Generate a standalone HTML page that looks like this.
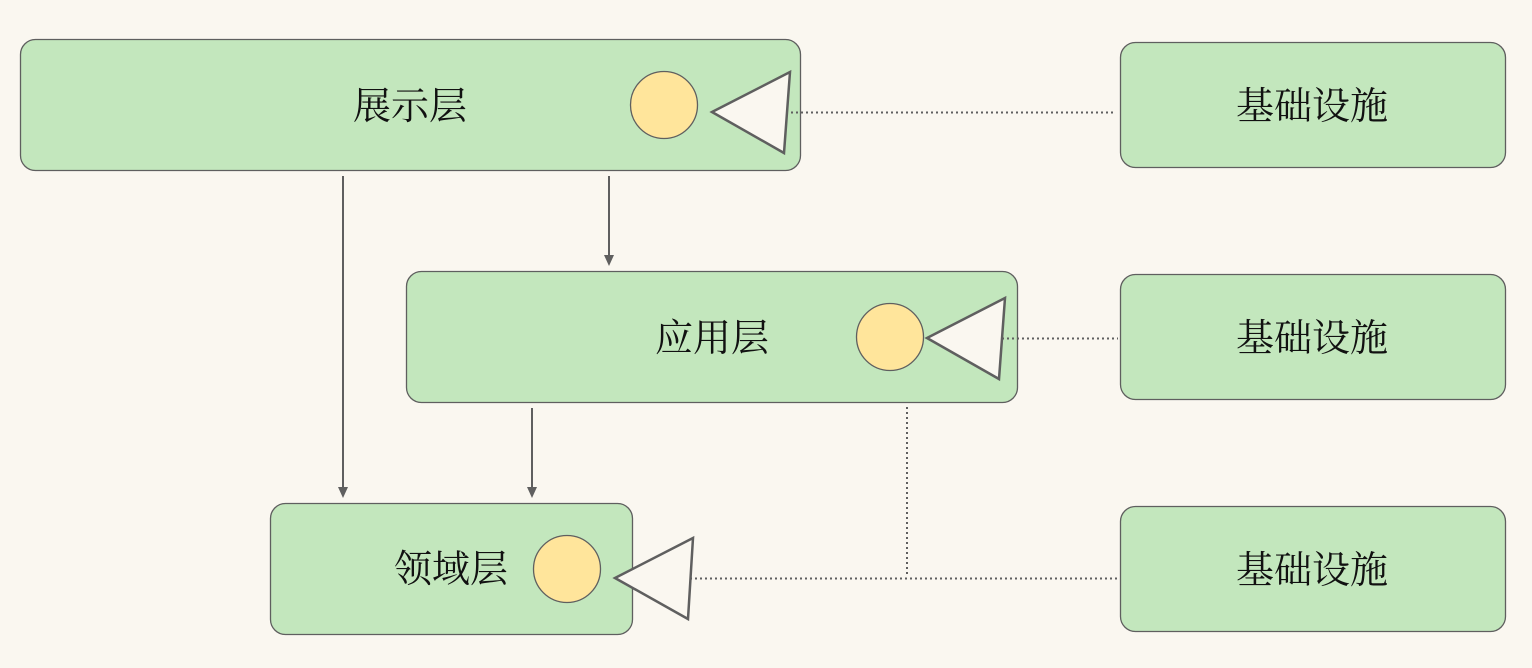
<!DOCTYPE html>
<html><head><meta charset="utf-8"><style>
html,body{margin:0;padding:0;background:#faf7f0;}
svg{display:block}
text{font-family:"Liberation Serif","Noto Serif CJK SC",serif;font-size:38px;fill:#111;text-anchor:middle;dominant-baseline:central}
</style></head><body>
<svg width="1532" height="668" viewBox="0 0 1532 668" xmlns="http://www.w3.org/2000/svg">
<g fill="#c3e7bd" stroke="#5f5f5f" stroke-width="1.3">
<rect x="20.5" y="39.5" width="780" height="131" rx="15"/>
<rect x="406.5" y="271.5" width="611" height="131" rx="15"/>
<rect x="270.5" y="503.5" width="362" height="131" rx="15"/>
<rect x="1120.5" y="42.5" width="385" height="125" rx="15"/>
<rect x="1120.5" y="274.5" width="385" height="125" rx="15"/>
<rect x="1120.5" y="506.5" width="385" height="125" rx="15"/>
</g>
<g stroke="#5f5f5f" stroke-width="2" stroke-dasharray="2,3" fill="none">
<line x1="786" y1="112.5" x2="1115" y2="112.5"/>
<line x1="1002" y1="338.5" x2="1118" y2="338.5"/>
<line x1="690" y1="578.5" x2="1118" y2="578.5"/>
<line x1="907" y1="407" x2="907" y2="576"/>
</g>
<g stroke="#5f5f5f" stroke-width="2">
<line x1="343" y1="176" x2="343" y2="489"/>
<line x1="609" y1="176" x2="609" y2="257"/>
<line x1="532" y1="408" x2="532" y2="489"/>
</g>
<g fill="#5f5f5f">
<path d="M338,487 L348,487 L343,498 Z"/>
<path d="M604,255 L614,255 L609,266 Z"/>
<path d="M527,487 L537,487 L532,498 Z"/>
</g>
<g fill="#ffe59b" stroke="#5f5f5f" stroke-width="1.3">
<circle cx="664" cy="105" r="33.5"/>
<circle cx="890" cy="337" r="33.5"/>
<circle cx="567" cy="569" r="33.5"/>
</g>
<g fill="#faf7f0" stroke="#5f5f5f" stroke-width="2.5">
<path d="M712,112 L790,72 L784,153 Z"/>
<path d="M927,338 L1005,298 L999,379 Z"/>
<path d="M615,578 L693,538 L688,619 Z"/>
</g>
<text x="410" y="107">展示层</text>
<text x="712" y="339">应用层</text>
<text x="451" y="570">领域层</text>
<text x="1312" y="107">基础设施</text>
<text x="1312" y="339">基础设施</text>
<text x="1312" y="571">基础设施</text>
</svg>
</body></html>
